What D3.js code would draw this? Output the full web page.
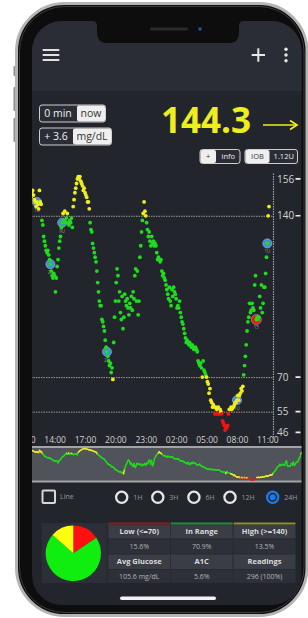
<!DOCTYPE html>
<html>
<head>
<meta charset="utf-8">
<script src="https://cdn.jsdelivr.net/npm/d3@7"></script>
<style>
  html, body { margin:0; padding:0; background:#fff; }
  svg { display:block; font-family:"Open Sans", sans-serif; }
</style>
</head>
<body>
<svg id="chart" width="308" height="618"></svg>
<script>

// one reading every 5 minutes, first reading at 11:40 of the previous day
var firstReading = "11:40";
var glucose = [
  148,150,151,149,147,146,144,146,145,143,
  151,146,145,138,136,131,129,127,125,124,
  125,123,121,119,116,114,113,115,114,107,
  113,118,121,126,129,131,135,137,141,138,
  142,137,139,141,137,136,138,137,139,135,
  144,147,150,152,154,156,157,156,157,155,
  154,153,151,152,150,149,148,146,146,143,
  137,134,133,128,126,124,122,120,116,111,
  107,103,101,101,95,94,92,90,86,83,
  81,79,77,75,76,72,74,69,85,96,
  103,111,117,114,103,107,98,95,105,91,
  96,106,103,101,104,100,97,102,100,105,
  99,107,104,114,117,103,116,97,103,122,
  127,133,138,141,146,142,140,137,134,131,
  133,129,127,131,128,129,127,128,127,124,
  121,122,121,120,121,116,114,115,113,112,
  110,108,106,104,109,103,101,108,105,109,
  107,106,104,100,101,100,103,98,96,94,
  93,91,89,87,85,86,85,84,85,84,
  83,84,83,82,82,83,82,81,77,76,
  75,76,74,70,77,73,72,71,70,68,
  67,63,65,60,59,57,58,57,54,57,
  56,54,57,54,56,55,54,51,50,49,
  47,48,48,49,54,56,56,57,56,57,
  57,58,59,59,60,62,60,62,63,65,
  64,66,71,75,79,84,90,94,96,102,
  98,99,102,100,99,110,114,95,96,95,
  96,105,100,110,98,102,109,109,115,122,
  128,140,144
];

var yTicks = [156, 140, 70, 55, 46];
var gridLevels = [140, 70, 55];
var xTickLabels = ["11:00","14:00","17:00","20:00","23:00","02:00","05:00","08:00","11:00"];

// treatments shown on the chart (reading index, kind, note)
var markerIndex = [7, 23, 37, 90, 244, 280, 267];
var markerKind  = ["ins","ins","ins","ins","ins","ins","carb"];
var markerNote  = ["1U","20","9U","2U","1U","1U","15"];

var rangeOptions = ["1H","3H","6H","12H","24H"];
var selectedRange = "24H";

var pieNames  = ["Low", "In Range", "High"];
var pieShares = [15.6, 70.9, 13.5];

var statHeads  = [["Low (<=70)","In Range","High (>=140)"], ["Avg Glucose","A1C","Readings"]];
var statValues = [["15.6%","70.9%","13.5%"], ["105.6 mg/dL","5.6%","296 (100%)"]];

var currentValue = "144.3";

var colors = {
  yellow:"#eeee1e", green:"#1fdc1f", red:"#f01414",
  header:"#2a2d35", body:"#22252c", text:"#d2d2d2"
};

function dotColor(v){
  if (v < 55) return colors.red;
  if (v <= 70 || v >= 140) return colors.yellow;
  return colors.green;
}

var svg = d3.select("#chart");
var defs = svg.append("defs");
defs.append("clipPath").attr("id","screenClip").append("rect")
  .attr("x",32).attr("y",21).attr("width",269.5).attr("height",584).attr("rx",30);
defs.append("clipPath").attr("id","plotClip").append("rect")
  .attr("x",32).attr("y",160).attr("width",241).attr("height",290);

// phone body
svg.append("rect").attr("x",13.5).attr("y",66).attr("width",4).attr("height",10).attr("rx",1).attr("fill","#8c8c8c");
svg.append("rect").attr("x",13.5).attr("y",87).attr("width",4).attr("height",24).attr("rx",1).attr("fill","#8c8c8c");
svg.append("rect").attr("x",13.5).attr("y",118).attr("width",4).attr("height",24).attr("rx",1).attr("fill","#8c8c8c");
svg.append("rect").attr("x",16.5).attr("y",3.5).attr("width",290.5).attr("height",612).attr("rx",48)
  .attr("fill","#0d0d0d").attr("stroke","#b4b4b4").attr("stroke-width",3);
svg.append("rect").attr("x",19.5).attr("y",6.5).attr("width",284.5).attr("height",606).attr("rx",45)
  .attr("fill","none").attr("stroke","#3c3c3c").attr("stroke-width",1);

var screen = svg.append("g").attr("clip-path","url(#screenClip)");
screen.append("rect").attr("x",32).attr("y",21).attr("width",270).attr("height",584).attr("fill",colors.body);
screen.append("rect").attr("x",32).attr("y",21).attr("width",270).attr("height",70).attr("fill",colors.header);

// notch
svg.append("path")
  .attr("d","M92,21 Q97,21 97,26 L97,33 Q97,43 107,43 L229,43 Q239,43 239,33 L239,26 Q239,21 244,21 Z")
  .attr("fill","#0d0d0d");
svg.append("rect").attr("x",150).attr("y",27.5).attr("width",38).attr("height",3).attr("rx",1.5).attr("fill","#2b2b2b");
svg.append("circle").attr("cx",200).attr("cy",29).attr("r",2.2).attr("fill","#1d2c4c");
svg.append("circle").attr("cx",200).attr("cy",29).attr("r",1).attr("fill","#3a6cc8");

// header icons
[50, 55, 60].forEach(function(y){
  screen.append("rect").attr("x",42.7).attr("y",y-1).attr("width",16.6).attr("height",2).attr("fill","#e2e2e2");
});
screen.append("rect").attr("x",251.7).attr("y",54).attr("width",13.3).attr("height",2).attr("fill","#e8e8e8");
screen.append("rect").attr("x",257.3).attr("y",48.3).attr("width",2).attr("height",13.4).attr("fill","#e8e8e8");
[49.3, 55, 60.8].forEach(function(y){
  screen.append("circle").attr("cx",286).attr("cy",y).attr("r",1.7).attr("fill","#e8e8e8");
});

// two-part labels
function pill(x, y, w1, w2, h, t1, t2, lightSide, fs){
  var g = screen.append("g");
  g.append("rect").attr("x",x).attr("y",y).attr("width",w1+w2).attr("height",h).attr("rx",2.5)
    .attr("fill","#2a2d35").attr("stroke","#cfcfcf").attr("stroke-width",1);
  var lx = lightSide == "left" ? x : x + w1;
  var lw = lightSide == "left" ? w1 : w2;
  g.append("rect").attr("x",lx+0.5).attr("y",y+0.5).attr("width",lw-1).attr("height",h-1).attr("rx",2)
    .attr("fill","#efefef");
  g.append("text").attr("x",x+w1/2).attr("y",y+h/2).attr("dy","0.35em").attr("text-anchor","middle")
    .attr("font-size",fs).attr("fill",lightSide == "left" ? "#333" : "#f0f0f0").text(t1);
  g.append("text").attr("x",x+w1+w2/2).attr("y",y+h/2).attr("dy","0.35em").attr("text-anchor","middle")
    .attr("font-size",fs).attr("fill",lightSide == "left" ? "#f0f0f0" : "#333").text(t2);
}
pill(39.5, 105, 37, 29, 17, "0 min", "now", "right", 10.5);
pill(39.5, 128, 33, 39, 17, "+ 3.6", "mg/dL", "right", 10.5);
pill(200, 149.5, 16.5, 23.5, 14, "+", "info", "left", 7.5);
pill(245, 149.5, 25, 27.5, 14, "IOB", "1.12U", "left", 7.5);

screen.append("text").attr("x",161).attr("y",133).attr("font-size",35).attr("font-weight",700)
  .attr("fill",colors.yellow).text(currentValue);
screen.append("line").attr("x1",263).attr("x2",296).attr("y1",125).attr("y2",125)
  .attr("stroke",colors.yellow).attr("stroke-width",1.7);
screen.append("path").attr("d","M290,120.5 L297,125 L290,129.5").attr("fill","none")
  .attr("stroke",colors.yellow).attr("stroke-width",1.7);

// ---- main chart ----
var parseHM = d3.timeParse("%Y-%m-%d %H:%M");
var t0 = parseHM("2020-01-01 " + firstReading);
var times = glucose.map(function(d,i){ return d3.timeMinute.offset(t0, i*5); });

var x = d3.scaleTime().domain([t0, times[times.length-1]]).range([31, 269]);
var y = d3.scaleLinear().domain([44, 159]).range([437, 172]);

var tickDates = [];
var day = 1, lastHour = -1;
xTickLabels.forEach(function(lbl){
  var h = +lbl.split(":")[0];
  if (h < lastHour) day++;
  lastHour = h;
  tickDates.push(parseHM("2020-01-0" + day + " " + lbl));
});

var plot = screen.append("g").attr("clip-path","url(#plotClip)");

plot.selectAll(".grid").data(gridLevels).enter().append("line")
  .attr("x1",31).attr("x2",273).attr("y1",function(d){ return y(d)+0.5; }).attr("y2",function(d){ return y(d)+0.5; })
  .attr("stroke","#9a9a9a").attr("stroke-width",1).attr("stroke-dasharray","1.5,1");

var markers = plot.append("g").selectAll("g").data(markerIndex).enter().append("g");
markers.append("circle")
  .attr("cx",function(d){ return x(times[d]); })
  .attr("cy",function(d){ return y(glucose[d]); })
  .attr("r",function(d,i){ return markerKind[i] == "carb" ? 5 : 4.6; })
  .attr("fill",function(d,i){ return markerKind[i] == "carb" ? colors.red : "#3f8ee0"; })
  .attr("stroke","#a8b0b8").attr("stroke-width",0.6);
markers.append("text")
  .attr("x",function(d){ return x(times[d]); })
  .attr("y",function(d){ return y(glucose[d]) + 10; })
  .attr("text-anchor","middle").attr("font-size",4.5).attr("fill","#9a9a9a")
  .text(function(d,i){ return markerNote[i]; });

plot.append("g").selectAll("circle").data(glucose).enter().append("circle")
  .attr("cx",function(d,i){ return x(times[i]); })
  .attr("cy",function(d){ return y(d); })
  .attr("r",1.9)
  .attr("fill",function(d){ return dotColor(d); });

var yAxis = screen.append("g").attr("transform","translate(273,0)")
  .call(d3.axisRight(y).tickValues(yTicks).tickSize(0).tickSizeOuter(0).tickPadding(4).tickFormat(d3.format("d")));
yAxis.select(".domain").attr("stroke","#a0a0a0").attr("stroke-width",1.2).attr("stroke-dasharray","1.5,1");
yAxis.selectAll("text").attr("fill",colors.text).attr("font-size",10).attr("font-family","Open Sans");
screen.selectAll(".ytick").data(yTicks).enter().append("line")
  .attr("x1",295.5).attr("x2",300.5).attr("y1",function(d){ return y(d); }).attr("y2",function(d){ return y(d); })
  .attr("stroke","#ececec").attr("stroke-width",1.6);

var xAxis = screen.append("g").attr("transform","translate(0,434)")
  .call(d3.axisBottom(x).tickValues(tickDates).tickSize(0).tickPadding(3).tickFormat(d3.timeFormat("%H:%M")));
xAxis.select(".domain").remove();
xAxis.selectAll("text").attr("fill",colors.text).attr("font-size",8.5).attr("font-family","Open Sans");

// ---- overview strip ----
var mx = d3.scaleTime().domain(x.domain()).range([30, 302]);
var my = d3.scaleLinear().domain([44, 159]).range([481, 448]);
screen.append("rect").attr("x",30).attr("y",447).attr("width",275).attr("height",34).attr("fill","#505359");
screen.append("line").attr("x1",30).attr("x2",305).attr("y1",447).attr("y2",447).attr("stroke","#a4a4a4").attr("stroke-width",2);
screen.append("line").attr("x1",30).attr("x2",305).attr("y1",481.5).attr("y2",481.5).attr("stroke","#a4a4a4").attr("stroke-width",2);
screen.append("g").selectAll("line").data(glucose.slice(1)).enter().append("line")
  .attr("x1",function(d,i){ return mx(times[i]); })
  .attr("y1",function(d,i){ return my(glucose[i]); })
  .attr("x2",function(d,i){ return mx(times[i+1]); })
  .attr("y2",function(d){ return my(d); })
  .attr("stroke",function(d,i){ return dotColor(glucose[i]); })
  .attr("stroke-width",1.4).attr("stroke-linecap","round");

// ---- controls ----
screen.append("rect").attr("x",42.5).attr("y",490.5).attr("width",12.5).attr("height",12.5).attr("rx",1)
  .attr("fill","none").attr("stroke","#d8d8d8").attr("stroke-width",2);
screen.append("text").attr("x",60).attr("y",497).attr("dy","0.35em").attr("font-size",7).attr("fill","#9a9a9a").text("Line");

var radioX = d3.scalePoint().domain(rangeOptions.slice(0,4)).range([121.7, 230]);
var radios = screen.append("g").selectAll("g").data(rangeOptions).enter().append("g")
  .attr("transform",function(d){ return "translate(" + (d == "24H" ? 272.7 : radioX(d)) + ",497.3)"; });
radios.append("circle").attr("r",5.6).attr("fill","none").attr("stroke-width",2.3)
  .attr("stroke",function(d){ return d == selectedRange ? "#1f7ae6" : "#e6e6e6"; });
radios.filter(function(d){ return d == selectedRange; }).append("circle").attr("r",3).attr("fill","#1f7ae6");
radios.append("text").attr("x",11.5).attr("dy","0.35em").attr("font-size",7).attr("fill","#9a9a9a")
  .text(function(d){ return d; });

// ---- stats ----
screen.append("rect").attr("x",41.7).attr("y",523).attr("width",254.3).attr("height",60).attr("fill","#26292f");
screen.append("rect").attr("x",41.7).attr("y",523).attr("width",65).attr("height",60).attr("fill","#2c2f37");

var pie = d3.pie().sort(null).value(function(d){ return d; });
var arc = d3.arc().innerRadius(0).outerRadius(27.7);
var pieColors = ["#ff1010", "#10ee10", "#ffff10"];
screen.append("g").attr("transform","translate(73.3,553.3)")
  .selectAll("path").data(pie(pieShares)).enter().append("path")
  .attr("d",arc).attr("fill",function(d,i){ return pieColors[i]; });

var colX = [108.3, 170.8, 233.6];
var colW = 61.8;
var topLine = ["#8c1c24", "#1f8e3a", "#8e8e2c"];
var rowY = [525, 539.5, 554.5, 570];
var rowH = [13.5, 14, 14.5, 12.8];

screen.selectAll(".topline").data(topLine).enter().append("rect")
  .attr("x",function(d,i){ return colX[i]; }).attr("y",522.5).attr("width",colW).attr("height",2)
  .attr("fill",function(d){ return d; });

[0,1].forEach(function(r){
  statHeads[r].forEach(function(h,c){
    screen.append("rect").attr("x",colX[c]).attr("y",rowY[r*2]).attr("width",colW).attr("height",rowH[r*2]).attr("fill","#3a3d45");
    screen.append("text").attr("x",colX[c]+colW/2).attr("y",rowY[r*2]+rowH[r*2]/2).attr("dy","0.35em")
      .attr("text-anchor","middle").attr("font-size",7.5).attr("font-weight",700).attr("fill","#dcdcdc").text(h);
    screen.append("rect").attr("x",colX[c]).attr("y",rowY[r*2+1]).attr("width",colW).attr("height",rowH[r*2+1]).attr("fill","#2d3038");
    screen.append("text").attr("x",colX[c]+colW/2).attr("y",rowY[r*2+1]+rowH[r*2+1]/2).attr("dy","0.35em")
      .attr("text-anchor","middle").attr("font-size",7).attr("fill","#b4b4b4").text(statValues[r][c]);
  });
});

// home indicator
screen.append("rect").attr("x",120).attr("y",596.5).attr("width",96).attr("height",3.6).attr("rx",1.8).attr("fill","#f2f2f2");

</script>
</body>
</html>
